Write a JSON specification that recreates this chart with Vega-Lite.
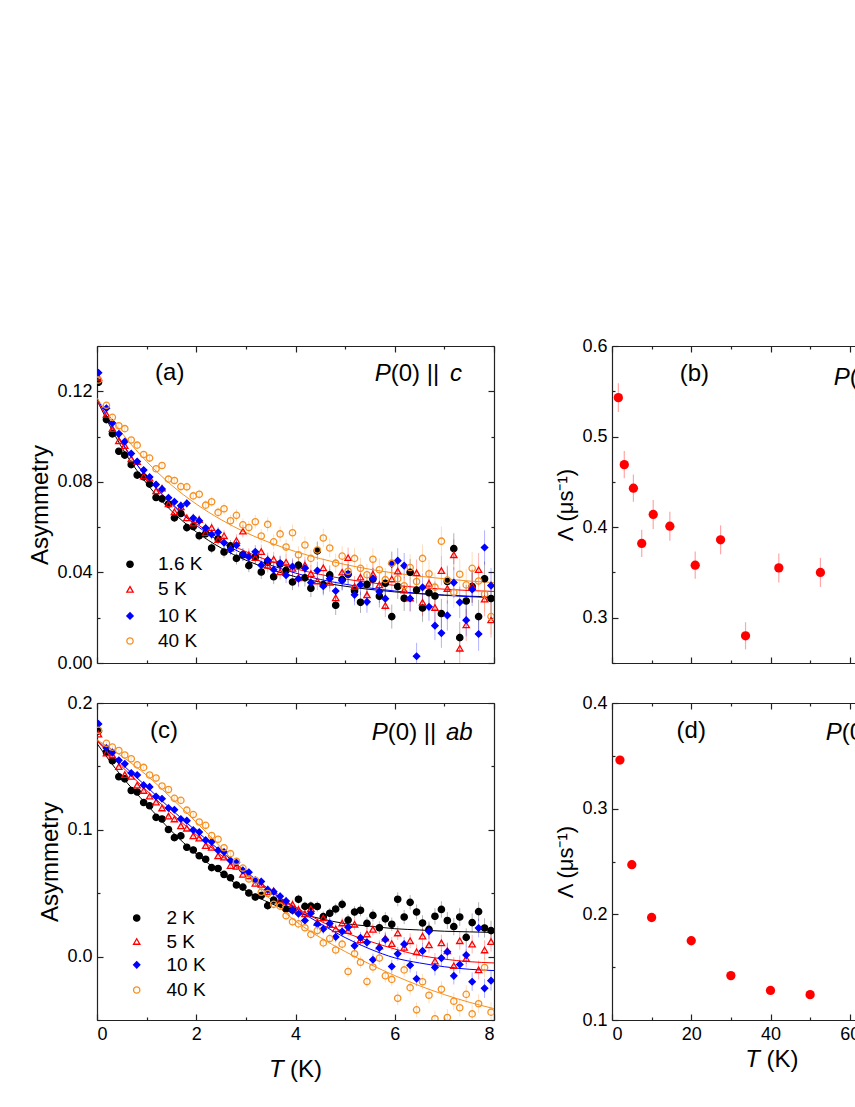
{
"$schema":"https://vega.github.io/schema/vega-lite/v6.json",
"background":"white",
"padding":{"left":28,"top":337,"right":0,"bottom":0},
"config":{"font":"Liberation Sans","view":{"stroke":null},
"axis":{"grid":false,"labelFont":"Liberation Sans","labelFontSize":18,"labelColor":"#000","labelPadding":11,"titleFont":"Liberation Sans","titleFontWeight":"normal","titleColor":"#000","domainColor":"#222","domainWidth":1.2,"tickColor":"#222","tickWidth":1.2}},
"datasets":{
"A":[
{"s":"1.6 K","t":0.03,"v":0.124,"e":0.001},{"s":"1.6 K","t":0.19,"v":0.1075,"e":0.0011},{"s":"1.6 K","t":0.31,"v":0.1012,"e":0.0011},{"s":"1.6 K","t":0.44,"v":0.0935,"e":0.0012},{"s":"1.6 K","t":0.56,"v":0.0918,"e":0.0012},{"s":"1.6 K","t":0.69,"v":0.0876,"e":0.0013},{"s":"1.6 K","t":0.81,"v":0.083,"e":0.0013},{"s":"1.6 K","t":0.94,"v":0.0822,"e":0.0014},
{"s":"1.6 K","t":1.06,"v":0.079,"e":0.0015},{"s":"1.6 K","t":1.19,"v":0.0731,"e":0.0016},{"s":"1.6 K","t":1.31,"v":0.0725,"e":0.0016},{"s":"1.6 K","t":1.44,"v":0.0702,"e":0.0017},{"s":"1.6 K","t":1.56,"v":0.0641,"e":0.0018},{"s":"1.6 K","t":1.69,"v":0.066,"e":0.0018},{"s":"1.6 K","t":1.81,"v":0.0598,"e":0.0019},{"s":"1.6 K","t":1.94,"v":0.0603,"e":0.002},
{"s":"1.6 K","t":2.06,"v":0.0562,"e":0.0021},{"s":"1.6 K","t":2.19,"v":0.0571,"e":0.0022},{"s":"1.6 K","t":2.31,"v":0.0508,"e":0.0023},{"s":"1.6 K","t":2.44,"v":0.0549,"e":0.0024},{"s":"1.6 K","t":2.56,"v":0.049,"e":0.0025},{"s":"1.6 K","t":2.69,"v":0.0517,"e":0.0026},{"s":"1.6 K","t":2.81,"v":0.0462,"e":0.0027},{"s":"1.6 K","t":2.94,"v":0.0478,"e":0.0028},
{"s":"1.6 K","t":3.06,"v":0.043,"e":0.0029},{"s":"1.6 K","t":3.19,"v":0.0468,"e":0.003},{"s":"1.6 K","t":3.31,"v":0.0402,"e":0.0031},{"s":"1.6 K","t":3.44,"v":0.0445,"e":0.0032},{"s":"1.6 K","t":3.56,"v":0.0381,"e":0.0033},{"s":"1.6 K","t":3.69,"v":0.0437,"e":0.0034},{"s":"1.6 K","t":3.81,"v":0.0409,"e":0.0035},{"s":"1.6 K","t":3.94,"v":0.0358,"e":0.0036},
{"s":"1.6 K","t":4.06,"v":0.0432,"e":0.0037},{"s":"1.6 K","t":4.19,"v":0.0376,"e":0.0038},{"s":"1.6 K","t":4.31,"v":0.033,"e":0.0039},{"s":"1.6 K","t":4.44,"v":0.0495,"e":0.004},{"s":"1.6 K","t":4.56,"v":0.0346,"e":0.0041},{"s":"1.6 K","t":4.69,"v":0.0389,"e":0.0042},{"s":"1.6 K","t":4.81,"v":0.0255,"e":0.0043},{"s":"1.6 K","t":4.94,"v":0.0368,"e":0.0044},
{"s":"1.6 K","t":5.06,"v":0.0392,"e":0.0045},{"s":"1.6 K","t":5.19,"v":0.0318,"e":0.0046},{"s":"1.6 K","t":5.31,"v":0.0268,"e":0.0047},{"s":"1.6 K","t":5.44,"v":0.0347,"e":0.0048},{"s":"1.6 K","t":5.56,"v":0.0371,"e":0.0049},{"s":"1.6 K","t":5.69,"v":0.0295,"e":0.005},{"s":"1.6 K","t":5.81,"v":0.0352,"e":0.0052},{"s":"1.6 K","t":5.94,"v":0.0205,"e":0.0053},
{"s":"1.6 K","t":6.06,"v":0.0338,"e":0.0055},{"s":"1.6 K","t":6.19,"v":0.0286,"e":0.0056},{"s":"1.6 K","t":6.31,"v":0.0401,"e":0.0058},{"s":"1.6 K","t":6.44,"v":0.0322,"e":0.0059},{"s":"1.6 K","t":6.56,"v":0.0243,"e":0.0061},{"s":"1.6 K","t":6.69,"v":0.031,"e":0.0062},{"s":"1.6 K","t":6.81,"v":0.0296,"e":0.0064},{"s":"1.6 K","t":6.94,"v":0.0218,"e":0.0065},
{"s":"1.6 K","t":7.06,"v":0.036,"e":0.0067},{"s":"1.6 K","t":7.19,"v":0.0505,"e":0.0068},{"s":"1.6 K","t":7.31,"v":0.0112,"e":0.007},{"s":"1.6 K","t":7.44,"v":0.0274,"e":0.0071},{"s":"1.6 K","t":7.56,"v":0.0338,"e":0.0073},{"s":"1.6 K","t":7.69,"v":0.0205,"e":0.0074},{"s":"1.6 K","t":7.81,"v":0.0372,"e":0.0076},{"s":"1.6 K","t":7.94,"v":0.0285,"e":0.0078},
{"s":"5 K","t":0.03,"v":0.1262,"e":0.001},{"s":"5 K","t":0.19,"v":0.1098,"e":0.0011},{"s":"5 K","t":0.31,"v":0.1035,"e":0.0011},{"s":"5 K","t":0.44,"v":0.0981,"e":0.0012},{"s":"5 K","t":0.56,"v":0.096,"e":0.0012},{"s":"5 K","t":0.69,"v":0.0902,"e":0.0013},{"s":"5 K","t":0.81,"v":0.0889,"e":0.0013},{"s":"5 K","t":0.94,"v":0.0825,"e":0.0014},
{"s":"5 K","t":1.06,"v":0.0816,"e":0.0015},{"s":"5 K","t":1.19,"v":0.076,"e":0.0016},{"s":"5 K","t":1.31,"v":0.0772,"e":0.0016},{"s":"5 K","t":1.44,"v":0.0703,"e":0.0017},{"s":"5 K","t":1.56,"v":0.0668,"e":0.0018},{"s":"5 K","t":1.69,"v":0.069,"e":0.0018},{"s":"5 K","t":1.81,"v":0.0641,"e":0.0019},{"s":"5 K","t":1.94,"v":0.0618,"e":0.002},
{"s":"5 K","t":2.06,"v":0.0633,"e":0.0021},{"s":"5 K","t":2.19,"v":0.0576,"e":0.0022},{"s":"5 K","t":2.31,"v":0.0598,"e":0.0023},{"s":"5 K","t":2.44,"v":0.0545,"e":0.0024},{"s":"5 K","t":2.56,"v":0.0562,"e":0.0025},{"s":"5 K","t":2.69,"v":0.0507,"e":0.0026},{"s":"5 K","t":2.81,"v":0.0541,"e":0.0027},{"s":"5 K","t":2.94,"v":0.0582,"e":0.0028},
{"s":"5 K","t":3.06,"v":0.0478,"e":0.0029},{"s":"5 K","t":3.19,"v":0.0465,"e":0.003},{"s":"5 K","t":3.31,"v":0.0492,"e":0.0031},{"s":"5 K","t":3.44,"v":0.0431,"e":0.0032},{"s":"5 K","t":3.56,"v":0.0458,"e":0.0033},{"s":"5 K","t":3.69,"v":0.0402,"e":0.0034},{"s":"5 K","t":3.81,"v":0.0445,"e":0.0035},{"s":"5 K","t":3.94,"v":0.0418,"e":0.0036},
{"s":"5 K","t":4.06,"v":0.0376,"e":0.0037},{"s":"5 K","t":4.19,"v":0.0432,"e":0.0038},{"s":"5 K","t":4.31,"v":0.0395,"e":0.0039},{"s":"5 K","t":4.44,"v":0.0362,"e":0.004},{"s":"5 K","t":4.56,"v":0.042,"e":0.0041},{"s":"5 K","t":4.69,"v":0.0356,"e":0.0042},{"s":"5 K","t":4.81,"v":0.0288,"e":0.0043},{"s":"5 K","t":4.94,"v":0.0401,"e":0.0044},
{"s":"5 K","t":5.06,"v":0.0465,"e":0.0045},{"s":"5 K","t":5.19,"v":0.0338,"e":0.0046},{"s":"5 K","t":5.31,"v":0.0379,"e":0.0047},{"s":"5 K","t":5.44,"v":0.0301,"e":0.0048},{"s":"5 K","t":5.56,"v":0.0393,"e":0.0049},{"s":"5 K","t":5.69,"v":0.0345,"e":0.005},{"s":"5 K","t":5.81,"v":0.0254,"e":0.0052},{"s":"5 K","t":5.94,"v":0.0371,"e":0.0053},
{"s":"5 K","t":6.06,"v":0.0406,"e":0.0055},{"s":"5 K","t":6.19,"v":0.0322,"e":0.0056},{"s":"5 K","t":6.31,"v":0.0287,"e":0.0058},{"s":"5 K","t":6.44,"v":0.0398,"e":0.0059},{"s":"5 K","t":6.56,"v":0.0268,"e":0.0061},{"s":"5 K","t":6.69,"v":0.0352,"e":0.0062},{"s":"5 K","t":6.81,"v":0.0245,"e":0.0064},{"s":"5 K","t":6.94,"v":0.0408,"e":0.0065},
{"s":"5 K","t":7.06,"v":0.0329,"e":0.0067},{"s":"5 K","t":7.19,"v":0.0478,"e":0.0068},{"s":"5 K","t":7.31,"v":0.0065,"e":0.007},{"s":"5 K","t":7.44,"v":0.0168,"e":0.0071},{"s":"5 K","t":7.56,"v":0.0341,"e":0.0073},{"s":"5 K","t":7.69,"v":0.0412,"e":0.0074},{"s":"5 K","t":7.81,"v":0.0282,"e":0.0076},{"s":"5 K","t":7.94,"v":0.019,"e":0.0078},
{"s":"10 K","t":0.03,"v":0.1282,"e":0.001},{"s":"10 K","t":0.19,"v":0.1125,"e":0.0011},{"s":"10 K","t":0.31,"v":0.106,"e":0.0011},{"s":"10 K","t":0.44,"v":0.1012,"e":0.0012},{"s":"10 K","t":0.56,"v":0.0978,"e":0.0012},{"s":"10 K","t":0.69,"v":0.0925,"e":0.0013},{"s":"10 K","t":0.81,"v":0.089,"e":0.0013},{"s":"10 K","t":0.94,"v":0.0852,"e":0.0014},
{"s":"10 K","t":1.06,"v":0.0821,"e":0.0015},{"s":"10 K","t":1.19,"v":0.0788,"e":0.0016},{"s":"10 K","t":1.31,"v":0.0768,"e":0.0016},{"s":"10 K","t":1.44,"v":0.073,"e":0.0017},{"s":"10 K","t":1.56,"v":0.0712,"e":0.0018},{"s":"10 K","t":1.69,"v":0.0695,"e":0.0018},{"s":"10 K","t":1.81,"v":0.0705,"e":0.0019},{"s":"10 K","t":1.94,"v":0.064,"e":0.002},
{"s":"10 K","t":2.06,"v":0.0628,"e":0.0021},{"s":"10 K","t":2.19,"v":0.0596,"e":0.0022},{"s":"10 K","t":2.31,"v":0.0568,"e":0.0023},{"s":"10 K","t":2.44,"v":0.0577,"e":0.0024},{"s":"10 K","t":2.56,"v":0.0531,"e":0.0025},{"s":"10 K","t":2.69,"v":0.0502,"e":0.0026},{"s":"10 K","t":2.81,"v":0.052,"e":0.0027},{"s":"10 K","t":2.94,"v":0.0479,"e":0.0028},
{"s":"10 K","t":3.06,"v":0.0468,"e":0.0029},{"s":"10 K","t":3.19,"v":0.0491,"e":0.003},{"s":"10 K","t":3.31,"v":0.0432,"e":0.0031},{"s":"10 K","t":3.44,"v":0.0455,"e":0.0032},{"s":"10 K","t":3.56,"v":0.0412,"e":0.0033},{"s":"10 K","t":3.69,"v":0.0441,"e":0.0034},{"s":"10 K","t":3.81,"v":0.0388,"e":0.0035},{"s":"10 K","t":3.94,"v":0.0426,"e":0.0036},
{"s":"10 K","t":4.06,"v":0.0372,"e":0.0037},{"s":"10 K","t":4.19,"v":0.0418,"e":0.0038},{"s":"10 K","t":4.31,"v":0.0355,"e":0.0039},{"s":"10 K","t":4.44,"v":0.0408,"e":0.004},{"s":"10 K","t":4.56,"v":0.0339,"e":0.0041},{"s":"10 K","t":4.69,"v":0.0372,"e":0.0042},{"s":"10 K","t":4.81,"v":0.0318,"e":0.0043},{"s":"10 K","t":4.94,"v":0.0364,"e":0.0044},
{"s":"10 K","t":5.06,"v":0.0392,"e":0.0045},{"s":"10 K","t":5.19,"v":0.0301,"e":0.0046},{"s":"10 K","t":5.31,"v":0.0346,"e":0.0047},{"s":"10 K","t":5.44,"v":0.027,"e":0.0048},{"s":"10 K","t":5.56,"v":0.0372,"e":0.0049},{"s":"10 K","t":5.69,"v":0.0315,"e":0.005},{"s":"10 K","t":5.81,"v":0.0284,"e":0.0052},{"s":"10 K","t":5.94,"v":0.0438,"e":0.0053},
{"s":"10 K","t":6.06,"v":0.0452,"e":0.0055},{"s":"10 K","t":6.19,"v":0.043,"e":0.0056},{"s":"10 K","t":6.31,"v":0.0285,"e":0.0058},{"s":"10 K","t":6.44,"v":0.003,"e":0.0059},{"s":"10 K","t":6.56,"v":0.0334,"e":0.0061},{"s":"10 K","t":6.69,"v":0.0248,"e":0.0062},{"s":"10 K","t":6.81,"v":0.0165,"e":0.0064},{"s":"10 K","t":6.94,"v":0.0132,"e":0.0065},
{"s":"10 K","t":7.06,"v":0.021,"e":0.0067},{"s":"10 K","t":7.19,"v":0.0355,"e":0.0068},{"s":"10 K","t":7.31,"v":0.0268,"e":0.007},{"s":"10 K","t":7.44,"v":0.0189,"e":0.0071},{"s":"10 K","t":7.56,"v":0.0325,"e":0.0073},{"s":"10 K","t":7.69,"v":0.0128,"e":0.0074},{"s":"10 K","t":7.81,"v":0.051,"e":0.0076},{"s":"10 K","t":7.94,"v":0.0342,"e":0.0078},
{"s":"40 K","t":0.03,"v":0.125,"e":0.001},{"s":"40 K","t":0.19,"v":0.1138,"e":0.0011},{"s":"40 K","t":0.31,"v":0.1085,"e":0.0011},{"s":"40 K","t":0.44,"v":0.1048,"e":0.0012},{"s":"40 K","t":0.56,"v":0.1035,"e":0.0012},{"s":"40 K","t":0.69,"v":0.0985,"e":0.0013},{"s":"40 K","t":0.81,"v":0.0962,"e":0.0013},{"s":"40 K","t":0.94,"v":0.0921,"e":0.0014},
{"s":"40 K","t":1.06,"v":0.0905,"e":0.0015},{"s":"40 K","t":1.19,"v":0.0858,"e":0.0016},{"s":"40 K","t":1.31,"v":0.0872,"e":0.0016},{"s":"40 K","t":1.44,"v":0.0812,"e":0.0017},{"s":"40 K","t":1.56,"v":0.0806,"e":0.0018},{"s":"40 K","t":1.69,"v":0.0779,"e":0.0018},{"s":"40 K","t":1.81,"v":0.0778,"e":0.0019},{"s":"40 K","t":1.94,"v":0.0738,"e":0.002},
{"s":"40 K","t":2.06,"v":0.0745,"e":0.0021},{"s":"40 K","t":2.19,"v":0.0697,"e":0.0022},{"s":"40 K","t":2.31,"v":0.0712,"e":0.0023},{"s":"40 K","t":2.44,"v":0.0665,"e":0.0024},{"s":"40 K","t":2.56,"v":0.0681,"e":0.0025},{"s":"40 K","t":2.69,"v":0.0628,"e":0.0026},{"s":"40 K","t":2.81,"v":0.0652,"e":0.0027},{"s":"40 K","t":2.94,"v":0.061,"e":0.0028},
{"s":"40 K","t":3.06,"v":0.0598,"e":0.0029},{"s":"40 K","t":3.19,"v":0.0624,"e":0.003},{"s":"40 K","t":3.31,"v":0.0561,"e":0.0031},{"s":"40 K","t":3.44,"v":0.0612,"e":0.0032},{"s":"40 K","t":3.56,"v":0.0535,"e":0.0033},{"s":"40 K","t":3.69,"v":0.057,"e":0.0034},{"s":"40 K","t":3.81,"v":0.0512,"e":0.0035},{"s":"40 K","t":3.94,"v":0.0575,"e":0.0036},
{"s":"40 K","t":4.06,"v":0.0478,"e":0.0037},{"s":"40 K","t":4.19,"v":0.0521,"e":0.0038},{"s":"40 K","t":4.31,"v":0.0462,"e":0.0039},{"s":"40 K","t":4.44,"v":0.0499,"e":0.004},{"s":"40 K","t":4.56,"v":0.0552,"e":0.0041},{"s":"40 K","t":4.69,"v":0.0508,"e":0.0042},{"s":"40 K","t":4.81,"v":0.0441,"e":0.0043},{"s":"40 K","t":4.94,"v":0.0472,"e":0.0044},
{"s":"40 K","t":5.06,"v":0.0405,"e":0.0045},{"s":"40 K","t":5.19,"v":0.0462,"e":0.0046},{"s":"40 K","t":5.31,"v":0.0418,"e":0.0047},{"s":"40 K","t":5.44,"v":0.039,"e":0.0048},{"s":"40 K","t":5.56,"v":0.0458,"e":0.0049},{"s":"40 K","t":5.69,"v":0.0412,"e":0.005},{"s":"40 K","t":5.81,"v":0.0368,"e":0.0052},{"s":"40 K","t":5.94,"v":0.0441,"e":0.0053},
{"s":"40 K","t":6.06,"v":0.0372,"e":0.0055},{"s":"40 K","t":6.19,"v":0.0341,"e":0.0056},{"s":"40 K","t":6.31,"v":0.0422,"e":0.0058},{"s":"40 K","t":6.44,"v":0.036,"e":0.0059},{"s":"40 K","t":6.56,"v":0.0462,"e":0.0061},{"s":"40 K","t":6.69,"v":0.0394,"e":0.0062},{"s":"40 K","t":6.81,"v":0.0335,"e":0.0064},{"s":"40 K","t":6.94,"v":0.0538,"e":0.0065},
{"s":"40 K","t":7.06,"v":0.0366,"e":0.0067},{"s":"40 K","t":7.19,"v":0.0312,"e":0.0068},{"s":"40 K","t":7.31,"v":0.0392,"e":0.007},{"s":"40 K","t":7.44,"v":0.0345,"e":0.0071},{"s":"40 K","t":7.56,"v":0.0418,"e":0.0073},{"s":"40 K","t":7.69,"v":0.0362,"e":0.0074},{"s":"40 K","t":7.81,"v":0.0305,"e":0.0076},{"s":"40 K","t":7.94,"v":0.0205,"e":0.0078}
],
"AF":[
{"s":"1.6 K","t":0,"v":0.116},{"s":"1.6 K","t":0.5,"v":0.0952},{"s":"1.6 K","t":1,"v":0.0793},{"s":"1.6 K","t":1.5,"v":0.0672},{"s":"1.6 K","t":2,"v":0.0579},{"s":"1.6 K","t":2.5,"v":0.0508},{"s":"1.6 K","t":3,"v":0.0454},{"s":"1.6 K","t":3.5,"v":0.0413},{"s":"1.6 K","t":4,"v":0.0381},{"s":"1.6 K","t":4.5,"v":0.0357},{"s":"1.6 K","t":5,"v":0.0339},{"s":"1.6 K","t":5.5,"v":0.0325},{"s":"1.6 K","t":6,"v":0.0314},{"s":"1.6 K","t":6.5,"v":0.0306},{"s":"1.6 K","t":7,"v":0.03},{"s":"1.6 K","t":7.5,"v":0.0295},{"s":"1.6 K","t":8,"v":0.0292},
{"s":"5 K","t":0,"v":0.116},{"s":"5 K","t":0.5,"v":0.097},{"s":"5 K","t":1,"v":0.0822},{"s":"5 K","t":1.5,"v":0.0706},{"s":"5 K","t":2,"v":0.0616},{"s":"5 K","t":2.5,"v":0.0546},{"s":"5 K","t":3,"v":0.0492},{"s":"5 K","t":3.5,"v":0.0449},{"s":"5 K","t":4,"v":0.0416},{"s":"5 K","t":4.5,"v":0.0391},{"s":"5 K","t":5,"v":0.0371},{"s":"5 K","t":5.5,"v":0.0355},{"s":"5 K","t":6,"v":0.0343},{"s":"5 K","t":6.5,"v":0.0333},{"s":"5 K","t":7,"v":0.0326},{"s":"5 K","t":7.5,"v":0.032},{"s":"5 K","t":8,"v":0.0316},
{"s":"10 K","t":0,"v":0.117},{"s":"10 K","t":0.5,"v":0.0975},{"s":"10 K","t":1,"v":0.0821},{"s":"10 K","t":1.5,"v":0.0702},{"s":"10 K","t":2,"v":0.0608},{"s":"10 K","t":2.5,"v":0.0534},{"s":"10 K","t":3,"v":0.0477},{"s":"10 K","t":3.5,"v":0.0432},{"s":"10 K","t":4,"v":0.0397},{"s":"10 K","t":4.5,"v":0.0369},{"s":"10 K","t":5,"v":0.0348},{"s":"10 K","t":5.5,"v":0.0331},{"s":"10 K","t":6,"v":0.0318},{"s":"10 K","t":6.5,"v":0.0307},{"s":"10 K","t":7,"v":0.0299},{"s":"10 K","t":7.5,"v":0.0293},{"s":"10 K","t":8,"v":0.0288},
{"s":"40 K","t":0,"v":0.117},{"s":"40 K","t":0.5,"v":0.1016},{"s":"40 K","t":1,"v":0.089},{"s":"40 K","t":1.5,"v":0.0786},{"s":"40 K","t":2,"v":0.0702},{"s":"40 K","t":2.5,"v":0.0633},{"s":"40 K","t":3,"v":0.0576},{"s":"40 K","t":3.5,"v":0.053},{"s":"40 K","t":4,"v":0.0492},{"s":"40 K","t":4.5,"v":0.0461},{"s":"40 K","t":5,"v":0.0435},{"s":"40 K","t":5.5,"v":0.0414},{"s":"40 K","t":6,"v":0.0397},{"s":"40 K","t":6.5,"v":0.0383},{"s":"40 K","t":7,"v":0.0372},{"s":"40 K","t":7.5,"v":0.0362},{"s":"40 K","t":8,"v":0.0355}
],
"AL":[
{"s":"1.6 K","t":0.665,"v":0.0436,"lt":1.23,"txt":"1.6 K"},{"s":"5 K","t":0.665,"v":0.0325,"lt":1.23,"txt":"5 K"},{"s":"10 K","t":0.665,"v":0.0208,"lt":1.23,"txt":"10 K"},{"s":"40 K","t":0.665,"v":0.0097,"lt":1.23,"txt":"40 K"}
],
"C":[
{"s":"2 K","t":0.03,"v":0.178,"e":0.001},{"s":"2 K","t":0.19,"v":0.1612,"e":0.0011},{"s":"2 K","t":0.31,"v":0.1545,"e":0.0011},{"s":"2 K","t":0.44,"v":0.1418,"e":0.0012},{"s":"2 K","t":0.56,"v":0.1402,"e":0.0012},{"s":"2 K","t":0.69,"v":0.131,"e":0.0013},{"s":"2 K","t":0.81,"v":0.1298,"e":0.0013},{"s":"2 K","t":0.94,"v":0.1215,"e":0.0014},
{"s":"2 K","t":1.06,"v":0.119,"e":0.0015},{"s":"2 K","t":1.19,"v":0.1098,"e":0.0016},{"s":"2 K","t":1.31,"v":0.1085,"e":0.0016},{"s":"2 K","t":1.44,"v":0.1002,"e":0.0017},{"s":"2 K","t":1.56,"v":0.0938,"e":0.0018},{"s":"2 K","t":1.69,"v":0.0952,"e":0.0018},{"s":"2 K","t":1.81,"v":0.0862,"e":0.0019},{"s":"2 K","t":1.94,"v":0.0841,"e":0.002},
{"s":"2 K","t":2.06,"v":0.0795,"e":0.0021},{"s":"2 K","t":2.19,"v":0.0768,"e":0.0022},{"s":"2 K","t":2.31,"v":0.0702,"e":0.0023},{"s":"2 K","t":2.44,"v":0.0695,"e":0.0024},{"s":"2 K","t":2.56,"v":0.0648,"e":0.0025},{"s":"2 K","t":2.69,"v":0.0622,"e":0.0026},{"s":"2 K","t":2.81,"v":0.0565,"e":0.0027},{"s":"2 K","t":2.94,"v":0.0548,"e":0.0028},
{"s":"2 K","t":3.06,"v":0.0502,"e":0.0029},{"s":"2 K","t":3.19,"v":0.047,"e":0.003},{"s":"2 K","t":3.31,"v":0.0481,"e":0.0031},{"s":"2 K","t":3.44,"v":0.0402,"e":0.0032},{"s":"2 K","t":3.56,"v":0.0446,"e":0.0033},{"s":"2 K","t":3.69,"v":0.0418,"e":0.0034},{"s":"2 K","t":3.81,"v":0.0375,"e":0.0035},{"s":"2 K","t":3.94,"v":0.0368,"e":0.0036},
{"s":"2 K","t":4.06,"v":0.0452,"e":0.0037},{"s":"2 K","t":4.19,"v":0.0396,"e":0.0038},{"s":"2 K","t":4.31,"v":0.0398,"e":0.0039},{"s":"2 K","t":4.44,"v":0.0395,"e":0.004},{"s":"2 K","t":4.56,"v":0.0315,"e":0.0041},{"s":"2 K","t":4.69,"v":0.0342,"e":0.0042},{"s":"2 K","t":4.81,"v":0.0375,"e":0.0043},{"s":"2 K","t":4.94,"v":0.0412,"e":0.0044},
{"s":"2 K","t":5.06,"v":0.0288,"e":0.0045},{"s":"2 K","t":5.19,"v":0.0352,"e":0.0046},{"s":"2 K","t":5.31,"v":0.0365,"e":0.0047},{"s":"2 K","t":5.44,"v":0.0262,"e":0.0048},{"s":"2 K","t":5.56,"v":0.0325,"e":0.0049},{"s":"2 K","t":5.69,"v":0.0228,"e":0.005},{"s":"2 K","t":5.81,"v":0.0298,"e":0.0052},{"s":"2 K","t":5.94,"v":0.0255,"e":0.0053},
{"s":"2 K","t":6.06,"v":0.0452,"e":0.0055},{"s":"2 K","t":6.19,"v":0.0312,"e":0.0056},{"s":"2 K","t":6.31,"v":0.0428,"e":0.0058},{"s":"2 K","t":6.44,"v":0.0352,"e":0.0059},{"s":"2 K","t":6.56,"v":0.0265,"e":0.0061},{"s":"2 K","t":6.69,"v":0.0215,"e":0.0062},{"s":"2 K","t":6.81,"v":0.0318,"e":0.0064},{"s":"2 K","t":6.94,"v":0.0372,"e":0.0065},
{"s":"2 K","t":7.06,"v":0.0285,"e":0.0067},{"s":"2 K","t":7.19,"v":0.0236,"e":0.0068},{"s":"2 K","t":7.31,"v":0.0312,"e":0.007},{"s":"2 K","t":7.44,"v":0.0152,"e":0.0071},{"s":"2 K","t":7.56,"v":0.0268,"e":0.0073},{"s":"2 K","t":7.69,"v":0.0355,"e":0.0074},{"s":"2 K","t":7.81,"v":0.0226,"e":0.0076},{"s":"2 K","t":7.94,"v":0.0205,"e":0.0078},
{"s":"5 K","t":0.03,"v":0.1755,"e":0.001},{"s":"5 K","t":0.19,"v":0.1605,"e":0.0011},{"s":"5 K","t":0.31,"v":0.159,"e":0.0011},{"s":"5 K","t":0.44,"v":0.1498,"e":0.0012},{"s":"5 K","t":0.56,"v":0.1435,"e":0.0012},{"s":"5 K","t":0.69,"v":0.1421,"e":0.0013},{"s":"5 K","t":0.81,"v":0.1352,"e":0.0013},{"s":"5 K","t":0.94,"v":0.131,"e":0.0014},
{"s":"5 K","t":1.06,"v":0.1265,"e":0.0015},{"s":"5 K","t":1.19,"v":0.1218,"e":0.0016},{"s":"5 K","t":1.31,"v":0.1172,"e":0.0016},{"s":"5 K","t":1.44,"v":0.1108,"e":0.0017},{"s":"5 K","t":1.56,"v":0.1085,"e":0.0018},{"s":"5 K","t":1.69,"v":0.1031,"e":0.0018},{"s":"5 K","t":1.81,"v":0.1012,"e":0.0019},{"s":"5 K","t":1.94,"v":0.0952,"e":0.002},
{"s":"5 K","t":2.06,"v":0.0935,"e":0.0021},{"s":"5 K","t":2.19,"v":0.0875,"e":0.0022},{"s":"5 K","t":2.31,"v":0.0862,"e":0.0023},{"s":"5 K","t":2.44,"v":0.0794,"e":0.0024},{"s":"5 K","t":2.56,"v":0.0785,"e":0.0025},{"s":"5 K","t":2.69,"v":0.0718,"e":0.0026},{"s":"5 K","t":2.81,"v":0.0712,"e":0.0027},{"s":"5 K","t":2.94,"v":0.0648,"e":0.0028},
{"s":"5 K","t":3.06,"v":0.0636,"e":0.0029},{"s":"5 K","t":3.19,"v":0.0578,"e":0.003},{"s":"5 K","t":3.31,"v":0.057,"e":0.0031},{"s":"5 K","t":3.44,"v":0.0512,"e":0.0032},{"s":"5 K","t":3.56,"v":0.0518,"e":0.0033},{"s":"5 K","t":3.69,"v":0.0452,"e":0.0034},{"s":"5 K","t":3.81,"v":0.0435,"e":0.0035},{"s":"5 K","t":3.94,"v":0.0412,"e":0.0036},
{"s":"5 K","t":4.06,"v":0.0372,"e":0.0037},{"s":"5 K","t":4.19,"v":0.0338,"e":0.0038},{"s":"5 K","t":4.31,"v":0.0378,"e":0.0039},{"s":"5 K","t":4.44,"v":0.0268,"e":0.004},{"s":"5 K","t":4.56,"v":0.0305,"e":0.0041},{"s":"5 K","t":4.69,"v":0.0252,"e":0.0042},{"s":"5 K","t":4.81,"v":0.0218,"e":0.0043},{"s":"5 K","t":4.94,"v":0.0265,"e":0.0044},
{"s":"5 K","t":5.06,"v":0.0205,"e":0.0045},{"s":"5 K","t":5.19,"v":0.0255,"e":0.0046},{"s":"5 K","t":5.31,"v":0.0132,"e":0.0047},{"s":"5 K","t":5.44,"v":0.0178,"e":0.0048},{"s":"5 K","t":5.56,"v":0.0215,"e":0.0049},{"s":"5 K","t":5.69,"v":0.0082,"e":0.005},{"s":"5 K","t":5.81,"v":0.0145,"e":0.0052},{"s":"5 K","t":5.94,"v":0.0102,"e":0.0053},
{"s":"5 K","t":6.06,"v":0.0186,"e":0.0055},{"s":"5 K","t":6.19,"v":0.0072,"e":0.0056},{"s":"5 K","t":6.31,"v":0.0125,"e":0.0058},{"s":"5 K","t":6.44,"v":0.0038,"e":0.0059},{"s":"5 K","t":6.56,"v":0.0162,"e":0.0061},{"s":"5 K","t":6.69,"v":0.0092,"e":0.0062},{"s":"5 K","t":6.81,"v":-0.0035,"e":0.0064},{"s":"5 K","t":6.94,"v":0.0108,"e":0.0065},
{"s":"5 K","t":7.06,"v":0.0045,"e":0.0067},{"s":"5 K","t":7.19,"v":-0.0072,"e":0.0068},{"s":"5 K","t":7.31,"v":0.0125,"e":0.007},{"s":"5 K","t":7.44,"v":-0.0015,"e":0.0071},{"s":"5 K","t":7.56,"v":0.0098,"e":0.0073},{"s":"5 K","t":7.69,"v":-0.0105,"e":0.0074},{"s":"5 K","t":7.81,"v":0.0052,"e":0.0076},{"s":"5 K","t":7.94,"v":0.0118,"e":0.0078},
{"s":"10 K","t":0.03,"v":0.1835,"e":0.001},{"s":"10 K","t":0.19,"v":0.1645,"e":0.0011},{"s":"10 K","t":0.31,"v":0.161,"e":0.0011},{"s":"10 K","t":0.44,"v":0.1548,"e":0.0012},{"s":"10 K","t":0.56,"v":0.152,"e":0.0012},{"s":"10 K","t":0.69,"v":0.1448,"e":0.0013},{"s":"10 K","t":0.81,"v":0.1432,"e":0.0013},{"s":"10 K","t":0.94,"v":0.1352,"e":0.0014},
{"s":"10 K","t":1.06,"v":0.1338,"e":0.0015},{"s":"10 K","t":1.19,"v":0.1262,"e":0.0016},{"s":"10 K","t":1.31,"v":0.1245,"e":0.0016},{"s":"10 K","t":1.44,"v":0.1172,"e":0.0017},{"s":"10 K","t":1.56,"v":0.1158,"e":0.0018},{"s":"10 K","t":1.69,"v":0.1085,"e":0.0018},{"s":"10 K","t":1.81,"v":0.1072,"e":0.0019},{"s":"10 K","t":1.94,"v":0.0998,"e":0.002},
{"s":"10 K","t":2.06,"v":0.0982,"e":0.0021},{"s":"10 K","t":2.19,"v":0.0918,"e":0.0022},{"s":"10 K","t":2.31,"v":0.0905,"e":0.0023},{"s":"10 K","t":2.44,"v":0.0838,"e":0.0024},{"s":"10 K","t":2.56,"v":0.0825,"e":0.0025},{"s":"10 K","t":2.69,"v":0.0758,"e":0.0026},{"s":"10 K","t":2.81,"v":0.0742,"e":0.0027},{"s":"10 K","t":2.94,"v":0.068,"e":0.0028},
{"s":"10 K","t":3.06,"v":0.0665,"e":0.0029},{"s":"10 K","t":3.19,"v":0.0602,"e":0.003},{"s":"10 K","t":3.31,"v":0.0592,"e":0.0031},{"s":"10 K","t":3.44,"v":0.0528,"e":0.0032},{"s":"10 K","t":3.56,"v":0.0512,"e":0.0033},{"s":"10 K","t":3.69,"v":0.0475,"e":0.0034},{"s":"10 K","t":3.81,"v":0.0438,"e":0.0035},{"s":"10 K","t":3.94,"v":0.0365,"e":0.0036},
{"s":"10 K","t":4.06,"v":0.0338,"e":0.0037},{"s":"10 K","t":4.19,"v":0.0285,"e":0.0038},{"s":"10 K","t":4.31,"v":0.0342,"e":0.0039},{"s":"10 K","t":4.44,"v":0.0255,"e":0.004},{"s":"10 K","t":4.56,"v":0.0218,"e":0.0041},{"s":"10 K","t":4.69,"v":0.0262,"e":0.0042},{"s":"10 K","t":4.81,"v":0.0155,"e":0.0043},{"s":"10 K","t":4.94,"v":0.0198,"e":0.0044},
{"s":"10 K","t":5.06,"v":0.0232,"e":0.0045},{"s":"10 K","t":5.19,"v":0.0085,"e":0.0046},{"s":"10 K","t":5.31,"v":0.0148,"e":0.0047},{"s":"10 K","t":5.44,"v":0.0112,"e":0.0048},{"s":"10 K","t":5.56,"v":-0.0025,"e":0.0049},{"s":"10 K","t":5.69,"v":0.0068,"e":0.005},{"s":"10 K","t":5.81,"v":0.0135,"e":0.0052},{"s":"10 K","t":5.94,"v":-0.0078,"e":0.0053},
{"s":"10 K","t":6.06,"v":0.0022,"e":0.0055},{"s":"10 K","t":6.19,"v":0.0098,"e":0.0056},{"s":"10 K","t":6.31,"v":-0.0068,"e":0.0058},{"s":"10 K","t":6.44,"v":-0.0175,"e":0.0059},{"s":"10 K","t":6.56,"v":0.0045,"e":0.0061},{"s":"10 K","t":6.69,"v":0.0199,"e":0.0062},{"s":"10 K","t":6.81,"v":-0.0085,"e":0.0064},{"s":"10 K","t":6.94,"v":-0.0012,"e":0.0065},
{"s":"10 K","t":7.06,"v":0.0038,"e":0.0067},{"s":"10 K","t":7.19,"v":-0.0152,"e":0.0068},{"s":"10 K","t":7.31,"v":-0.0062,"e":0.007},{"s":"10 K","t":7.44,"v":0.0012,"e":0.0071},{"s":"10 K","t":7.56,"v":-0.0198,"e":0.0073},{"s":"10 K","t":7.69,"v":0.0225,"e":0.0074},{"s":"10 K","t":7.81,"v":-0.025,"e":0.0076},{"s":"10 K","t":7.94,"v":-0.019,"e":0.0078},
{"s":"40 K","t":0.03,"v":0.1785,"e":0.001},{"s":"40 K","t":0.19,"v":0.1682,"e":0.0011},{"s":"40 K","t":0.31,"v":0.1652,"e":0.0011},{"s":"40 K","t":0.44,"v":0.1625,"e":0.0012},{"s":"40 K","t":0.56,"v":0.159,"e":0.0012},{"s":"40 K","t":0.69,"v":0.156,"e":0.0013},{"s":"40 K","t":0.81,"v":0.1512,"e":0.0013},{"s":"40 K","t":0.94,"v":0.1492,"e":0.0014},
{"s":"40 K","t":1.06,"v":0.1432,"e":0.0015},{"s":"40 K","t":1.19,"v":0.1408,"e":0.0016},{"s":"40 K","t":1.31,"v":0.1345,"e":0.0016},{"s":"40 K","t":1.44,"v":0.1318,"e":0.0017},{"s":"40 K","t":1.56,"v":0.1248,"e":0.0018},{"s":"40 K","t":1.69,"v":0.1232,"e":0.0018},{"s":"40 K","t":1.81,"v":0.1155,"e":0.0019},{"s":"40 K","t":1.94,"v":0.112,"e":0.002},
{"s":"40 K","t":2.06,"v":0.1062,"e":0.0021},{"s":"40 K","t":2.19,"v":0.1035,"e":0.0022},{"s":"40 K","t":2.31,"v":0.0955,"e":0.0023},{"s":"40 K","t":2.44,"v":0.0925,"e":0.0024},{"s":"40 K","t":2.56,"v":0.0858,"e":0.0025},{"s":"40 K","t":2.69,"v":0.0812,"e":0.0026},{"s":"40 K","t":2.81,"v":0.0752,"e":0.0027},{"s":"40 K","t":2.94,"v":0.0698,"e":0.0028},
{"s":"40 K","t":3.06,"v":0.0612,"e":0.0029},{"s":"40 K","t":3.19,"v":0.0602,"e":0.003},{"s":"40 K","t":3.31,"v":0.0508,"e":0.0031},{"s":"40 K","t":3.44,"v":0.0498,"e":0.0032},{"s":"40 K","t":3.56,"v":0.0412,"e":0.0033},{"s":"40 K","t":3.69,"v":0.0398,"e":0.0034},{"s":"40 K","t":3.81,"v":0.0322,"e":0.0035},{"s":"40 K","t":3.94,"v":0.0275,"e":0.0036},
{"s":"40 K","t":4.06,"v":0.0258,"e":0.0037},{"s":"40 K","t":4.19,"v":0.0228,"e":0.0038},{"s":"40 K","t":4.31,"v":0.0175,"e":0.0039},{"s":"40 K","t":4.44,"v":0.0205,"e":0.004},{"s":"40 K","t":4.56,"v":0.0108,"e":0.0041},{"s":"40 K","t":4.69,"v":0.0142,"e":0.0042},{"s":"40 K","t":4.81,"v":0.0052,"e":0.0043},{"s":"40 K","t":4.94,"v":0.0098,"e":0.0044},
{"s":"40 K","t":5.06,"v":-0.0118,"e":0.0045},{"s":"40 K","t":5.19,"v":0.0022,"e":0.0046},{"s":"40 K","t":5.31,"v":-0.0045,"e":0.0047},{"s":"40 K","t":5.44,"v":-0.0197,"e":0.0048},{"s":"40 K","t":5.56,"v":-0.0082,"e":0.0049},{"s":"40 K","t":5.69,"v":-0.0012,"e":0.005},{"s":"40 K","t":5.81,"v":-0.0152,"e":0.0052},{"s":"40 K","t":5.94,"v":-0.018,"e":0.0053},
{"s":"40 K","t":6.06,"v":-0.0329,"e":0.0055},{"s":"40 K","t":6.19,"v":-0.0105,"e":0.0056},{"s":"40 K","t":6.31,"v":-0.0245,"e":0.0058},{"s":"40 K","t":6.44,"v":-0.042,"e":0.0059},{"s":"40 K","t":6.56,"v":-0.0198,"e":0.0061},{"s":"40 K","t":6.69,"v":-0.0305,"e":0.0062},{"s":"40 K","t":6.81,"v":-0.049,"e":0.0064},{"s":"40 K","t":6.94,"v":-0.0258,"e":0.0065},
{"s":"40 K","t":7.06,"v":-0.048,"e":0.0067},{"s":"40 K","t":7.19,"v":-0.0352,"e":0.0068},{"s":"40 K","t":7.31,"v":-0.0403,"e":0.007},{"s":"40 K","t":7.44,"v":-0.0298,"e":0.0071},{"s":"40 K","t":7.56,"v":-0.0452,"e":0.0073},{"s":"40 K","t":7.69,"v":-0.0372,"e":0.0074},{"s":"40 K","t":7.81,"v":-0.0086,"e":0.0076},{"s":"40 K","t":7.94,"v":-0.0438,"e":0.0078}
],
"CF":[
{"s":"2 K","t":0,"v":0.168},{"s":"2 K","t":0.5,"v":0.142},{"s":"2 K","t":1,"v":0.12},{"s":"2 K","t":1.5,"v":0.099},{"s":"2 K","t":2,"v":0.081},{"s":"2 K","t":2.5,"v":0.066},{"s":"2 K","t":3,"v":0.052},{"s":"2 K","t":3.5,"v":0.042},{"s":"2 K","t":4,"v":0.035},{"s":"2 K","t":4.5,"v":0.03},{"s":"2 K","t":5,"v":0.026},{"s":"2 K","t":5.5,"v":0.024},{"s":"2 K","t":6,"v":0.022},{"s":"2 K","t":6.5,"v":0.021},{"s":"2 K","t":7,"v":0.02},{"s":"2 K","t":7.5,"v":0.0195},{"s":"2 K","t":8,"v":0.019},
{"s":"5 K","t":0,"v":0.17},{"s":"5 K","t":0.5,"v":0.15},{"s":"5 K","t":1,"v":0.131},{"s":"5 K","t":1.5,"v":0.113},{"s":"5 K","t":2,"v":0.096},{"s":"5 K","t":2.5,"v":0.08},{"s":"5 K","t":3,"v":0.065},{"s":"5 K","t":3.5,"v":0.051},{"s":"5 K","t":4,"v":0.039},{"s":"5 K","t":4.5,"v":0.028},{"s":"5 K","t":5,"v":0.019},{"s":"5 K","t":5.5,"v":0.012},{"s":"5 K","t":6,"v":0.006},{"s":"5 K","t":6.5,"v":0.001},{"s":"5 K","t":7,"v":-0.002},{"s":"5 K","t":7.5,"v":-0.004},{"s":"5 K","t":8,"v":-0.005},
{"s":"10 K","t":0,"v":0.171},{"s":"10 K","t":0.5,"v":0.152},{"s":"10 K","t":1,"v":0.134},{"s":"10 K","t":1.5,"v":0.116},{"s":"10 K","t":2,"v":0.099},{"s":"10 K","t":2.5,"v":0.083},{"s":"10 K","t":3,"v":0.067},{"s":"10 K","t":3.5,"v":0.052},{"s":"10 K","t":4,"v":0.038},{"s":"10 K","t":4.5,"v":0.026},{"s":"10 K","t":5,"v":0.015},{"s":"10 K","t":5.5,"v":0.006},{"s":"10 K","t":6,"v":-0.001},{"s":"10 K","t":6.5,"v":-0.005},{"s":"10 K","t":7,"v":-0.008},{"s":"10 K","t":7.5,"v":-0.01},{"s":"10 K","t":8,"v":-0.011},
{"s":"40 K","t":0,"v":0.171},{"s":"40 K","t":0.5,"v":0.158},{"s":"40 K","t":1,"v":0.143},{"s":"40 K","t":1.5,"v":0.125},{"s":"40 K","t":2,"v":0.106},{"s":"40 K","t":2.5,"v":0.086},{"s":"40 K","t":3,"v":0.065},{"s":"40 K","t":3.5,"v":0.045},{"s":"40 K","t":4,"v":0.028},{"s":"40 K","t":4.5,"v":0.015},{"s":"40 K","t":5,"v":0.004},{"s":"40 K","t":5.5,"v":-0.006},{"s":"40 K","t":6,"v":-0.015},{"s":"40 K","t":6.5,"v":-0.023},{"s":"40 K","t":7,"v":-0.03},{"s":"40 K","t":7.5,"v":-0.036},{"s":"40 K","t":8,"v":-0.041}
],
"CL":[
{"s":"2 K","t":0.8,"v":0.0304,"lt":1.4,"txt":"2 K"},{"s":"5 K","t":0.8,"v":0.0119,"lt":1.4,"txt":"5 K"},{"s":"10 K","t":0.8,"v":-0.0065,"lt":1.4,"txt":"10 K"},{"s":"40 K","t":0.8,"v":-0.0263,"lt":1.4,"txt":"40 K"}
],
"B":[
{"t":1.6,"v":0.543,"e":0.016},{"t":3.1,"v":0.469,"e":0.015},{"t":5.4,"v":0.443,"e":0.015},{"t":7.5,"v":0.382,"e":0.015},{"t":10.4,"v":0.414,"e":0.016},{"t":14.6,"v":0.401,"e":0.016},{"t":21.0,"v":0.358,"e":0.015},{"t":27.4,"v":0.386,"e":0.016},{"t":33.7,"v":0.28,"e":0.015},{"t":42.1,"v":0.355,"e":0.016},{"t":52.6,"v":0.35,"e":0.016}
],
"D":[
{"t":2,"v":0.346,"e":0.004},{"t":5,"v":0.247,"e":0.003},{"t":10,"v":0.197,"e":0.003},{"t":20,"v":0.175,"e":0.003},{"t":30,"v":0.142,"e":0.003},{"t":40,"v":0.128,"e":0.003},{"t":50,"v":0.124,"e":0.003}
]
},
"columns":2,
"spacing":{"row":40,"column":118},
"bounds":"flush",
"resolve":{"scale":{"color":"independent","shape":"independent","fill":"independent","stroke":"independent"}},
"concat":[
{"width":397,"height":317,"layer":[
 {"data":{"name":"A"},"mark":{"type":"errorbar","thickness":1,"clip":true,"rule":{"opacity":0.3}},
  "encoding":{"x":{"field":"t","type":"quantitative","scale":{"domain":[0,8],"nice":false,"zero":false},"axis":null},
   "y":{"field":"v","type":"quantitative","scale":{"domain":[0,0.14],"nice":false,"zero":false},"axis":null},
   "yError":{"field":"e"},
   "color":{"field":"s","type":"nominal","scale":{"domain":["1.6 K","5 K","10 K","40 K"],"range":["#000000","#ff0000","#0000ff","#f79020"]},"legend":null}}},
 {"data":{"name":"AF"},"mark":{"type":"line","strokeWidth":1,"interpolate":"monotone","clip":true},
  "encoding":{"x":{"field":"t","type":"quantitative","scale":{"domain":[0,8],"nice":false,"zero":false},"axis":null},
   "y":{"field":"v","type":"quantitative","scale":{"domain":[0,0.14],"nice":false,"zero":false},"axis":null},
   "color":{"field":"s","type":"nominal","scale":{"domain":["1.6 K","5 K","10 K","40 K"],"range":["#000000","#ff0000","#0000ff","#f79020"]},"legend":null}}},
 {"data":{"name":"A"},"mark":{"type":"point","filled":true,"size":40,"opacity":1,"strokeWidth":1.3,"clip":true},
  "encoding":{"x":{"field":"t","type":"quantitative","scale":{"domain":[0,8],"nice":false,"zero":false},
     "axis":{"orient":"bottom","values":[0,1,2,3,4,5,6,7,8],"labels":false,"title":null,"tickSize":{"condition":{"test":"datum.value % 2 == 0","value":-6},"value":-3}}},
   "y":{"field":"v","type":"quantitative","scale":{"domain":[0,0.14],"nice":false,"zero":false},
     "axis":{"orient":"left","values":[0,0.02,0.04,0.06,0.08,0.1,0.12,0.14],"format":".2f","labelExpr":"round(datum.value*100) % 4 == 0 ? datum.label : ''","title":"Asymmetry","titleFontSize":24,"tickSize":{"condition":{"test":"round(datum.value*100) % 4 == 0","value":-6},"value":-3}}},
   "shape":{"field":"s","type":"nominal","scale":{"domain":["1.6 K","5 K","10 K","40 K"],"range":["circle","triangle-up","diamond","circle"]},"legend":null},
   "fill":{"field":"s","type":"nominal","scale":{"domain":["1.6 K","5 K","10 K","40 K"],"range":["#000000","transparent","#0000ff","transparent"]},"legend":null},
   "stroke":{"field":"s","type":"nominal","scale":{"domain":["1.6 K","5 K","10 K","40 K"],"range":["#000000","#ff0000","#0000ff","#f79020"]},"legend":null}}},
 {"data":{"name":"AL"},"mark":{"type":"point","filled":true,"size":40,"opacity":1,"strokeWidth":1.3},
  "encoding":{"x":{"field":"t","type":"quantitative","scale":{"domain":[0,8],"nice":false,"zero":false},"axis":null},
   "y":{"field":"v","type":"quantitative","scale":{"domain":[0,0.14],"nice":false,"zero":false},"axis":null},
   "shape":{"field":"s","type":"nominal","scale":{"domain":["1.6 K","5 K","10 K","40 K"],"range":["circle","triangle-up","diamond","circle"]},"legend":null},
   "fill":{"field":"s","type":"nominal","scale":{"domain":["1.6 K","5 K","10 K","40 K"],"range":["#000000","transparent","#0000ff","transparent"]},"legend":null},
   "stroke":{"field":"s","type":"nominal","scale":{"domain":["1.6 K","5 K","10 K","40 K"],"range":["#000000","#ff0000","#0000ff","#f79020"]},"legend":null}}},
 {"data":{"name":"AL"},"mark":{"type":"text","align":"left","baseline":"middle","fontSize":19,"font":"Liberation Sans","color":"#000"},
  "encoding":{"x":{"field":"lt","type":"quantitative","scale":{"domain":[0,8],"nice":false,"zero":false},"axis":null},
   "y":{"field":"v","type":"quantitative","scale":{"domain":[0,0.14],"nice":false,"zero":false},"axis":null},
   "text":{"field":"txt"}}},
 {"data":{"values":[{"t":1.17,"v":0.1282,"txt":"(a)"},{"t":5.92,"v":0.1277,"txt":"(0) ||"}]},"mark":{"type":"text","align":"left","baseline":"middle","fontSize":24,"font":"Liberation Sans","color":"#000"},
  "encoding":{"x":{"field":"t","type":"quantitative","scale":{"domain":[0,8],"nice":false,"zero":false},
     "axis":{"orient":"top","values":[0,1,2,3,4,5,6,7,8],"labels":false,"title":null,"tickSize":{"condition":{"test":"datum.value % 2 == 0","value":-6},"value":-3}}},
   "y":{"field":"v","type":"quantitative","scale":{"domain":[0,0.14],"nice":false,"zero":false},
     "axis":{"orient":"right","values":[0,0.02,0.04,0.06,0.08,0.1,0.12,0.14],"labels":false,"title":null,"tickSize":{"condition":{"test":"round(datum.value*100) % 4 == 0","value":-6},"value":-3}}},
   "text":{"field":"txt"}}},
 {"data":{"values":[{"t":5.92,"v":0.1277,"txt":"P"},{"t":7.355,"v":0.1277,"txt":"c"}]},"mark":{"type":"text","align":"right","baseline":"middle","fontSize":24,"fontStyle":"italic","font":"Liberation Sans","color":"#000"},
  "encoding":{"x":{"field":"t","type":"quantitative","scale":{"domain":[0,8],"nice":false,"zero":false},"axis":null},
   "y":{"field":"v","type":"quantitative","scale":{"domain":[0,0.14],"nice":false,"zero":false},"axis":null},
   "text":{"field":"txt"}}}
]},
{"width":317,"height":317,"layer":[
 {"data":{"name":"B"},"mark":{"type":"errorbar","thickness":1.2,"rule":{"opacity":0.35}},
  "encoding":{"x":{"field":"t","type":"quantitative","scale":{"domain":[0,80],"nice":false,"zero":false},"axis":null},
   "y":{"field":"v","type":"quantitative","scale":{"domain":[0.25,0.6],"nice":false,"zero":false},"axis":null},
   "yError":{"field":"e"},"color":{"value":"#ff0000"}}},
 {"data":{"name":"B"},"mark":{"type":"point","filled":true,"size":86,"opacity":1,"color":"#ff0000"},
  "encoding":{"x":{"field":"t","type":"quantitative","scale":{"domain":[0,80],"nice":false,"zero":false},
     "axis":{"orient":"bottom","values":[0,10,20,30,40,50,60,70,80],"labels":false,"title":null,"tickSize":{"condition":{"test":"datum.value % 20 == 0","value":-6},"value":-3}}},
   "y":{"field":"v","type":"quantitative","scale":{"domain":[0.25,0.6],"nice":false,"zero":false},
     "axis":{"orient":"left","values":[0.25,0.3,0.35,0.4,0.45,0.5,0.55,0.6],"format":".1f","labelExpr":"round(datum.value*100) % 10 == 0 ? datum.label : ''","title":"Λ (μs⁻¹)","titleFontSize":22,"tickSize":{"condition":{"test":"round(datum.value*100) % 10 == 0","value":-6},"value":-3}}}}},
 {"data":{"values":[{"t":17.1,"v":0.569,"txt":"(b)"},{"t":60.0,"v":0.565,"txt":"(0) ||"}]},"mark":{"type":"text","align":"left","baseline":"middle","fontSize":24,"font":"Liberation Sans","color":"#000"},
  "encoding":{"x":{"field":"t","type":"quantitative","scale":{"domain":[0,80],"nice":false,"zero":false},
     "axis":{"orient":"top","values":[0,10,20,30,40,50,60,70,80],"labels":false,"title":null,"tickSize":{"condition":{"test":"datum.value % 20 == 0","value":-6},"value":-3}}},
   "y":{"field":"v","type":"quantitative","scale":{"domain":[0.25,0.6],"nice":false,"zero":false},
     "axis":{"orient":"right","values":[0.25,0.3,0.35,0.4,0.45,0.5,0.55,0.6],"labels":false,"title":null,"tickSize":{"condition":{"test":"round(datum.value*100) % 10 == 0","value":-6},"value":-3}}},
   "text":{"field":"txt"}}},
 {"data":{"values":[{"t":60.0,"v":0.565,"txt":"P"},{"t":76.9,"v":0.565,"txt":"c"}]},"mark":{"type":"text","align":"right","baseline":"middle","fontSize":24,"fontStyle":"italic","font":"Liberation Sans","color":"#000"},
  "encoding":{"x":{"field":"t","type":"quantitative","scale":{"domain":[0,80],"nice":false,"zero":false},"axis":null},
   "y":{"field":"v","type":"quantitative","scale":{"domain":[0.25,0.6],"nice":false,"zero":false},"axis":null},
   "text":{"field":"txt"}}}
]},
{"width":397,"height":317,"layer":[
 {"data":{"name":"C"},"mark":{"type":"errorbar","thickness":1,"clip":true,"rule":{"opacity":0.3}},
  "encoding":{"x":{"field":"t","type":"quantitative","scale":{"domain":[0,8],"nice":false,"zero":false},"axis":null},
   "y":{"field":"v","type":"quantitative","scale":{"domain":[-0.05,0.2],"nice":false,"zero":false},"axis":null},
   "yError":{"field":"e"},
   "color":{"field":"s","type":"nominal","scale":{"domain":["2 K","5 K","10 K","40 K"],"range":["#000000","#ff0000","#0000ff","#f79020"]},"legend":null}}},
 {"data":{"name":"CF"},"mark":{"type":"line","strokeWidth":1,"interpolate":"monotone","clip":true},
  "encoding":{"x":{"field":"t","type":"quantitative","scale":{"domain":[0,8],"nice":false,"zero":false},"axis":null},
   "y":{"field":"v","type":"quantitative","scale":{"domain":[-0.05,0.2],"nice":false,"zero":false},"axis":null},
   "color":{"field":"s","type":"nominal","scale":{"domain":["2 K","5 K","10 K","40 K"],"range":["#000000","#ff0000","#0000ff","#f79020"]},"legend":null}}},
 {"data":{"name":"C"},"mark":{"type":"point","filled":true,"size":40,"opacity":1,"strokeWidth":1.3,"clip":true},
  "encoding":{"x":{"field":"t","type":"quantitative","scale":{"domain":[0,8],"nice":false,"zero":false},
     "axis":{"orient":"bottom","values":[0,1,2,3,4,5,6,7,8],"labelExpr":"datum.value % 2 == 0 ? datum.label : ''","title":null,"tickSize":{"condition":{"test":"datum.value % 2 == 0","value":-6},"value":-3}}},
   "y":{"field":"v","type":"quantitative","scale":{"domain":[-0.05,0.2],"nice":false,"zero":false},
     "axis":{"orient":"left","values":[-0.05,0,0.05,0.1,0.15,0.2],"format":".1f","labelExpr":"round(datum.value*100) % 10 == 0 ? datum.label : ''","title":"Asymmetry","titleFontSize":24,"tickSize":{"condition":{"test":"round(datum.value*100) % 10 == 0","value":-6},"value":-3}}},
   "shape":{"field":"s","type":"nominal","scale":{"domain":["2 K","5 K","10 K","40 K"],"range":["circle","triangle-up","diamond","circle"]},"legend":null},
   "fill":{"field":"s","type":"nominal","scale":{"domain":["2 K","5 K","10 K","40 K"],"range":["#000000","transparent","#0000ff","transparent"]},"legend":null},
   "stroke":{"field":"s","type":"nominal","scale":{"domain":["2 K","5 K","10 K","40 K"],"range":["#000000","#ff0000","#0000ff","#f79020"]},"legend":null}}},
 {"data":{"name":"CL"},"mark":{"type":"point","filled":true,"size":40,"opacity":1,"strokeWidth":1.3},
  "encoding":{"x":{"field":"t","type":"quantitative","scale":{"domain":[0,8],"nice":false,"zero":false},"axis":null},
   "y":{"field":"v","type":"quantitative","scale":{"domain":[-0.05,0.2],"nice":false,"zero":false},"axis":null},
   "shape":{"field":"s","type":"nominal","scale":{"domain":["2 K","5 K","10 K","40 K"],"range":["circle","triangle-up","diamond","circle"]},"legend":null},
   "fill":{"field":"s","type":"nominal","scale":{"domain":["2 K","5 K","10 K","40 K"],"range":["#000000","transparent","#0000ff","transparent"]},"legend":null},
   "stroke":{"field":"s","type":"nominal","scale":{"domain":["2 K","5 K","10 K","40 K"],"range":["#000000","#ff0000","#0000ff","#f79020"]},"legend":null}}},
 {"data":{"name":"CL"},"mark":{"type":"text","align":"left","baseline":"middle","fontSize":19,"font":"Liberation Sans","color":"#000"},
  "encoding":{"x":{"field":"lt","type":"quantitative","scale":{"domain":[0,8],"nice":false,"zero":false},"axis":null},
   "y":{"field":"v","type":"quantitative","scale":{"domain":[-0.05,0.2],"nice":false,"zero":false},"axis":null},
   "text":{"field":"txt"}}},
 {"data":{"values":[{"t":1.07,"v":0.178,"txt":"(c)"},{"t":5.86,"v":0.1767,"txt":"(0) ||"},{"t":3.89,"v":-0.0893,"txt":"(K)"}]},"mark":{"type":"text","align":"left","baseline":"middle","fontSize":24,"font":"Liberation Sans","color":"#000"},
  "encoding":{"x":{"field":"t","type":"quantitative","scale":{"domain":[0,8],"nice":false,"zero":false},
     "axis":{"orient":"top","values":[0,1,2,3,4,5,6,7,8],"labels":false,"title":null,"tickSize":{"condition":{"test":"datum.value % 2 == 0","value":-6},"value":-3}}},
   "y":{"field":"v","type":"quantitative","scale":{"domain":[-0.05,0.2],"nice":false,"zero":false},
     "axis":{"orient":"right","values":[-0.05,0,0.05,0.1,0.15,0.2],"labels":false,"title":null,"tickSize":{"condition":{"test":"round(datum.value*100) % 10 == 0","value":-6},"value":-3}}},
   "text":{"field":"txt"}}},
 {"data":{"values":[{"t":5.86,"v":0.1767,"txt":"P"},{"t":7.57,"v":0.1767,"txt":"ab"},{"t":3.76,"v":-0.0893,"txt":"T"}]},"mark":{"type":"text","align":"right","baseline":"middle","fontSize":24,"fontStyle":"italic","font":"Liberation Sans","color":"#000"},
  "encoding":{"x":{"field":"t","type":"quantitative","scale":{"domain":[0,8],"nice":false,"zero":false},"axis":null},
   "y":{"field":"v","type":"quantitative","scale":{"domain":[-0.05,0.2],"nice":false,"zero":false},"axis":null},
   "text":{"field":"txt"}}}
]},
{"width":317,"height":317,"layer":[
 {"data":{"name":"D"},"mark":{"type":"errorbar","thickness":1.2,"rule":{"opacity":0.35}},
  "encoding":{"x":{"field":"t","type":"quantitative","scale":{"domain":[0,80],"nice":false,"zero":false},"axis":null},
   "y":{"field":"v","type":"quantitative","scale":{"domain":[0.1,0.4],"nice":false,"zero":false},"axis":null},
   "yError":{"field":"e"},"color":{"value":"#ff0000"}}},
 {"data":{"name":"D"},"mark":{"type":"point","filled":true,"size":86,"opacity":1,"color":"#ff0000"},
  "encoding":{"x":{"field":"t","type":"quantitative","scale":{"domain":[0,80],"nice":false,"zero":false},
     "axis":{"orient":"bottom","values":[0,10,20,30,40,50,60,70,80],"labelExpr":"datum.value % 20 == 0 ? datum.label : ''","title":null,"tickSize":{"condition":{"test":"datum.value % 20 == 0","value":-6},"value":-3}}},
   "y":{"field":"v","type":"quantitative","scale":{"domain":[0.1,0.4],"nice":false,"zero":false},
     "axis":{"orient":"left","values":[0.1,0.15,0.2,0.25,0.3,0.35,0.4],"format":".1f","labelExpr":"round(datum.value*100) % 10 == 0 ? datum.label : ''","title":"Λ (μs⁻¹)","titleFontSize":22,"tickSize":{"condition":{"test":"round(datum.value*100) % 10 == 0","value":-6},"value":-3}}}}},
 {"data":{"values":[{"t":16.3,"v":0.3737,"txt":"(d)"},{"t":58.0,"v":0.372,"txt":"(0) ||"},{"t":38.97,"v":0.062,"txt":"(K)"}]},"mark":{"type":"text","align":"left","baseline":"middle","fontSize":24,"font":"Liberation Sans","color":"#000"},
  "encoding":{"x":{"field":"t","type":"quantitative","scale":{"domain":[0,80],"nice":false,"zero":false},
     "axis":{"orient":"top","values":[0,10,20,30,40,50,60,70,80],"labels":false,"title":null,"tickSize":{"condition":{"test":"datum.value % 20 == 0","value":-6},"value":-3}}},
   "y":{"field":"v","type":"quantitative","scale":{"domain":[0.1,0.4],"nice":false,"zero":false},
     "axis":{"orient":"right","values":[0.1,0.15,0.2,0.25,0.3,0.35,0.4],"labels":false,"title":null,"tickSize":{"condition":{"test":"round(datum.value*100) % 10 == 0","value":-6},"value":-3}}},
   "text":{"field":"txt"}}},
 {"data":{"values":[{"t":58.0,"v":0.372,"txt":"P"},{"t":78.6,"v":0.372,"txt":"ab"},{"t":37.3,"v":0.062,"txt":"T"}]},"mark":{"type":"text","align":"right","baseline":"middle","fontSize":24,"fontStyle":"italic","font":"Liberation Sans","color":"#000"},
  "encoding":{"x":{"field":"t","type":"quantitative","scale":{"domain":[0,80],"nice":false,"zero":false},"axis":null},
   "y":{"field":"v","type":"quantitative","scale":{"domain":[0.1,0.4],"nice":false,"zero":false},"axis":null},
   "text":{"field":"txt"}}}
]}
]
}
